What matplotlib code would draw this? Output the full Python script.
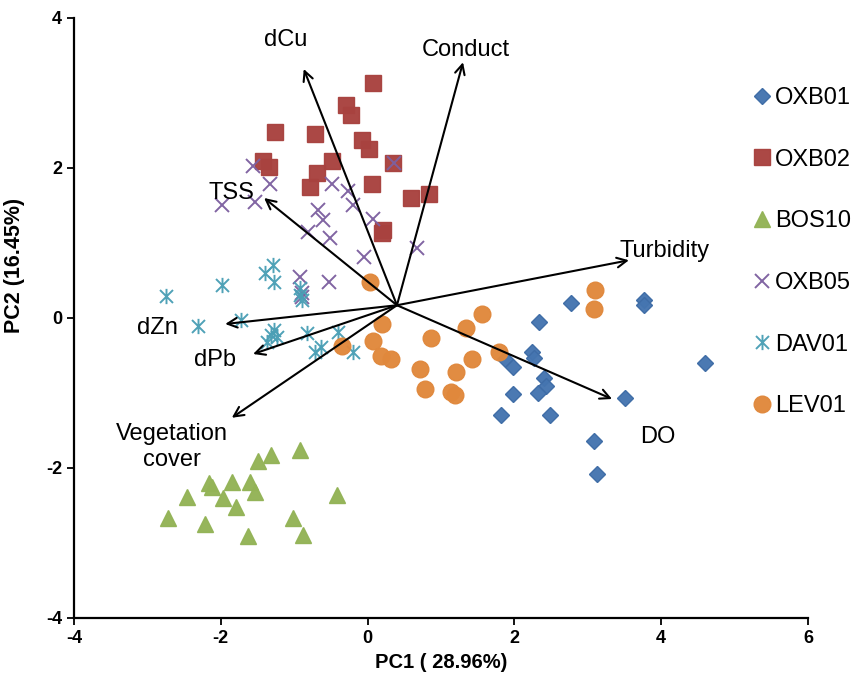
import numpy as np
import matplotlib
matplotlib.use("Agg")
import matplotlib.pyplot as plt
from matplotlib.path import Path

plt.rcParams['font.family'] = ['Liberation Sans', 'DejaVu Sans']
plt.rcParams['axes.unicode_minus'] = False

# site scores on the first two principal components
oxb01_x = [3.77, 3.77, 2.77, 2.34, 2.24, 2.27, 1.87, 1.98, 2.40, 2.43, 2.32, 1.98, 2.49, 1.82, 3.51, 3.08, 3.13, 4.60]
oxb01_y = [0.24, 0.17, 0.20, -0.05, -0.45, -0.53, -0.55, -0.65, -0.80, -0.91, -1.00, -1.01, -1.29, -1.29, -1.07, -1.64, -2.08, -0.60]

oxb02_x = [0.08, -0.30, -0.23, -1.26, -0.72, -0.08, 0.02, -1.43, -1.35, -0.48, 0.34, -0.69, -0.78, 0.06, 0.59, 0.83, 0.21, 0.19]
oxb02_y = [3.14, 2.84, 2.71, 2.48, 2.46, 2.38, 2.25, 2.10, 2.01, 2.10, 2.07, 1.93, 1.75, 1.79, 1.60, 1.65, 1.18, 1.14]

bos10_x = [-0.92, -1.31, -1.49, -2.16, -1.85, -1.60, -1.53, -2.46, -1.97, -1.79, -0.42, -2.72, -2.22, -1.01, -0.88, -1.63, -2.12]
bos10_y = [-1.76, -1.83, -1.90, -2.20, -2.18, -2.18, -2.32, -2.38, -2.40, -2.52, -2.36, -2.67, -2.75, -2.67, -2.89, -2.91, -2.25]

oxb05_x = [-1.56, -1.33, -1.53, -1.98, -0.49, -0.27, -0.20, 0.36, -0.68, -0.61, -0.81, -0.51, 0.07, 0.67, -0.05, -0.92, -0.53, -0.89, -0.90]
oxb05_y = [2.03, 1.79, 1.55, 1.51, 1.79, 1.69, 1.51, 2.07, 1.44, 1.31, 1.15, 1.07, 1.32, 0.93, 0.81, 0.55, 0.48, 0.28, 0.33]

dav01_x = [-1.29, -1.40, -1.27, -1.99, -2.75, -0.92, -0.92, -0.90, -1.72, -2.31, -1.28, -1.31, -1.24, -1.37, -0.83, -0.40, -0.63, -0.72, -0.20]
dav01_y = [0.71, 0.60, 0.48, 0.44, 0.29, 0.40, 0.31, 0.24, -0.02, -0.11, -0.16, -0.23, -0.25, -0.32, -0.20, -0.18, -0.38, -0.45, -0.45]

lev01_x = [0.03, 3.10, 3.08, 1.56, 1.34, 0.20, 0.86, 0.07, -0.35, 1.79, 0.18, 0.32, 1.42, 0.71, 1.20, 0.78, 1.13, 1.19]
lev01_y = [0.48, 0.38, 0.12, 0.06, -0.13, -0.08, -0.27, -0.30, -0.37, -0.45, -0.51, -0.54, -0.54, -0.68, -0.72, -0.95, -0.98, -1.03]

# variable loadings (arrow tips), common origin and label positions
origin = (0.40, 0.17)
var_names = ['dCu', 'Conduct', 'Turbidity', 'DO', 'TSS', 'dZn', 'dPb', 'Vegetation\ncover']
var_x = [-0.87, 1.30, 3.56, 3.33, -1.41, -1.94, -1.56, -1.85]
var_y = [3.32, 3.41, 0.77, -1.08, 1.60, -0.08, -0.48, -1.33]
lab_x = [-1.11, 1.34, 4.05, 3.96, -1.85, -2.86, -2.08, -2.66]
lab_y = [3.71, 3.57, 0.90, -1.59, 1.67, -0.13, -0.56, -1.72]

# six-armed star marker: vertical stroke plus an x
star = Path([(0, -1), (0, 1), (-0.85, -0.85), (0.85, 0.85), (-0.85, 0.85), (0.85, -0.85)],
            [Path.MOVETO, Path.LINETO, Path.MOVETO, Path.LINETO, Path.MOVETO, Path.LINETO])

series = [
    ('OXB01', oxb01_x, oxb01_y, dict(marker='D', ms=8.5, color='#4575B0', mec='#3E6CA6', ls='none')),
    ('OXB02', oxb02_x, oxb02_y, dict(marker='s', ms=11, color='#A8423F', mec='#A8423F', ls='none')),
    ('BOS10', bos10_x, bos10_y, dict(marker='^', ms=11, color='#93B356', mec='#93B356', ls='none')),
    ('OXB05', oxb05_x, oxb05_y, dict(marker='x', ms=10, color='#7D60A0', mew=1.4, ls='none')),
    ('DAV01', dav01_x, dav01_y, dict(marker=star, ms=11, color='#4A9FB5', mew=1.4, ls='none')),
    ('LEV01', lev01_x, lev01_y, dict(marker='o', ms=12, color='#E0883C', mec='#E0883C', ls='none')),
]

fig = plt.figure(figsize=(8.55, 6.83), dpi=100)
ax = fig.add_axes([74 / 855, 1 - 618 / 683, 734 / 855, 600 / 683])

handles = []
for name, xs, ys, style in series:
    h, = ax.plot(xs, ys, label=name, alpha=0.97, **style)
    handles.append(h)

for name, tx, ty, lx, ly in zip(var_names, var_x, var_y, lab_x, lab_y):
    ax.annotate('', xy=(tx, ty), xytext=origin,
                arrowprops=dict(arrowstyle='->,head_length=0.7,head_width=0.35', color='black', lw=1.5,
                                shrinkA=0, shrinkB=0))
    ax.text(lx, ly, name, fontsize=17, ha='center', va='center', linespacing=1.2)

ax.set_xlim(-4, 6)
ax.set_ylim(-4, 4)
ax.set_xticks([-4, -2, 0, 2, 4, 6])
ax.set_yticks([-4, -2, 0, 2, 4])
for s in ['top', 'right']:
    ax.spines[s].set_visible(False)
for s in ['left', 'bottom']:
    ax.spines[s].set_linewidth(1.6)
ax.tick_params(direction='out', length=5, width=1.3, labelsize=13)
for lbl in ax.get_xticklabels() + ax.get_yticklabels():
    lbl.set_fontweight('bold')

ax.set_xlabel('PC1 ( 28.96%)', fontsize=14.5, fontweight='bold')
ax.xaxis.set_label_coords(0.5, -0.058)
ax.set_ylabel('PC2 (16.45%)', fontsize=15.5, fontweight='bold')
ax.yaxis.set_label_coords(-0.067, 0.588)

leg = ax.legend(handles=handles, loc='upper left', bbox_to_anchor=(754 / 855, 1 - 87 / 683),
                bbox_transform=fig.transFigure, frameon=False, fontsize=17,
                labelspacing=1.68, handlelength=0.7, handletextpad=0.2, borderpad=0,
                borderaxespad=0)

fig.savefig('out.png', dpi=100)
